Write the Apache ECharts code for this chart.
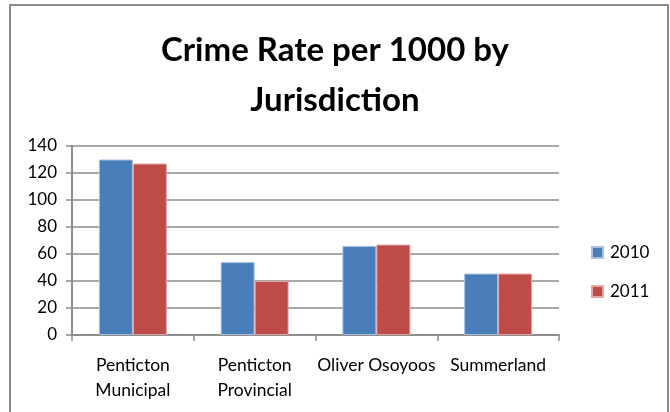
<!DOCTYPE html>
<html><head><meta charset="utf-8">
<script src="https://cdn.jsdelivr.net/npm/echarts@6/dist/echarts.min.js"></script>
<style>html,body{margin:0;padding:0;background:#fff}#c{width:670px;height:412px}</style>
</head><body><div id="c"></div>
<script>
const categories = ["Penticton\nMunicipal", "Penticton\nProvincial", "Oliver Osoyoos", "Summerland"];
const series2010 = [130, 54, 66, 45.5];
const series2011 = [127, 40, 67, 45.5];
const yTicks = {min: 0, max: 140, interval: 20};

const chart = echarts.init(document.getElementById('c'));
const font = 'Lato, "Open Sans", sans-serif';
chart.setOption({
  backgroundColor: '#fff',
  animation: false,
  graphic: [{type: 'rect', shape: {x: 10, y: 5, width: 658, height: 420}, style: {fill: 'none', stroke: '#8c8c8c', lineWidth: 2}, silent: true}],
  title: {
    text: 'Crime Rate per 1000 by\nJurisdiction',
    left: 'center', top: 20,
    textStyle: {fontFamily: font, fontWeight: 'bold', fontSize: 33, lineHeight: 50, color: '#000'}
  },
  legend: {
    orient: 'vertical', left: 591, top: 244, itemGap: 22, padding: 0,
    itemWidth: 11, itemHeight: 11, icon: 'rect',
    textStyle: {fontFamily: font, fontSize: 17, color: '#000', padding: [0,0,0,2]},
    data: ['2010', '2011']
  },
  grid: {left: 72, right: 111, top: 146, bottom: 77},
  xAxis: {
    type: 'category', data: categories,
    axisLine: {lineStyle: {color: '#8c8c8c', width: 2}},
    axisTick: {show: true, length: 6, lineStyle: {color: '#8c8c8c', width: 1.5}},
    axisLabel: {interval: 0, margin: 18, fontFamily: font, fontSize: 17.5, lineHeight: 25, color: '#000'}
  },
  yAxis: {
    type: 'value', min: yTicks.min, max: yTicks.max, interval: yTicks.interval,
    axisLine: {show: true, lineStyle: {color: '#8c8c8c', width: 2}},
    axisTick: {show: true, length: 6, lineStyle: {color: '#8c8c8c', width: 1.5}},
    splitLine: {lineStyle: {color: '#8c8c8c', width: 1.5}},
    axisLabel: {margin: 15, fontFamily: font, fontSize: 17, color: '#000'}
  },
  series: [
    {name: '2010', type: 'bar', data: series2010, barWidth: 34, barGap: '0%',
     itemStyle: {color: '#4a7ebb', borderColor: '#a9c0df', borderWidth: 1}},
    {name: '2011', type: 'bar', data: series2011, barWidth: 34, barGap: '0%',
     itemStyle: {color: '#be4b48', borderColor: '#e0a6a4', borderWidth: 1}}
  ]
});
</script></body></html>
